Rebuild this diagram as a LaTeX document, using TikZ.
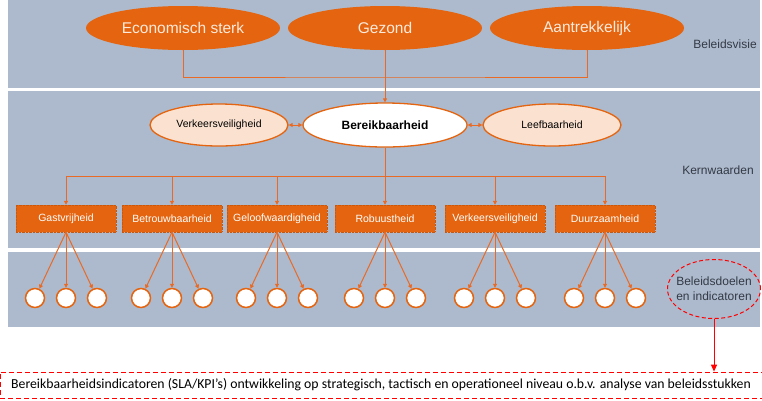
\documentclass[tikz,border=0pt]{standalone}
\usepackage{fontspec}
\setmainfont{Liberation Sans}
\newfontfamily\calibri{Carlito}
\usetikzlibrary{calc,shapes.geometric,arrows.meta}

\definecolor{band}{HTML}{ADBACD}
\definecolor{oranje}{HTML}{E4640F}
\definecolor{lijn}{HTML}{E86A24}
\definecolor{perzik}{HTML}{FBE2D0}
\definecolor{room}{HTML}{FDEBDD}
\definecolor{tekst}{HTML}{333A45}

\tikzset{
  visie/.style={ellipse, fill=oranje, minimum width=194pt, minimum height=44pt, text=room, font=\fontsize{15.5}{18}\selectfont},
  waarde/.style={ellipse, draw=oranje, line width=1.3pt, fill=perzik, minimum width=138pt, minimum height=42pt, font=\fontsize{10.5}{12}\selectfont},
  kern/.style={rectangle, fill=oranje, draw=oranje!88!black, densely dotted, minimum width=100pt, minimum height=27pt, text=white, font=\fontsize{10.5}{12}\selectfont},
  doel/.style={circle, draw=oranje, line width=1.5pt, fill=white, minimum size=19pt, inner sep=0pt},
  lijntje/.style={draw=lijn, line width=1pt},
  pijl/.style={lijntje, -{Triangle[length=4pt,width=4pt]}},
  laag/.style={font=\fontsize{12}{15}\selectfont, text=tekst}
}

\begin{document}
\begin{tikzpicture}[x=1pt,y=-1pt]
\useasboundingbox (0,0) rectangle (762,400);

% lagen
\fill[band] (8,0) rectangle (760,88);
\fill[band] (8,91) rectangle (760,248);
\fill[band] (8,252) rectangle (760,327);

% beleidsvisie
\node[visie] (econ) at (183,28) {Economisch sterk};
\node[visie] (gezond) at (385,28) {Gezond};
\node[visie] (aantr) at (587,28) {Aantrekkelijk};

\node[waarde] (veilig) at (219,125) {Verkeersveiligheid};
\node[ellipse, draw=oranje, line width=1.3pt, fill=white, minimum width=164pt, minimum height=44pt, font=\bfseries\fontsize{12}{14}\selectfont] (bereik) at (385,125) {Bereikbaarheid};
\node[waarde] (leef) at (552,125) {Leefbaarheid};

\coordinate (bus1) at (385,77);
\draw[lijntje] (econ.south) |- (bus1) -| (aantr.south);
\draw[pijl] (gezond.south) -- (bereik.north);
\draw[lijntje, {Triangle[length=4pt,width=4pt]}-{Triangle[length=4pt,width=4pt]}] (veilig) -- (bereik);
\draw[lijntje, {Triangle[length=4pt,width=4pt]}-{Triangle[length=4pt,width=4pt]}] (bereik) -- (leef);

% kernwaarden
\foreach \x/\naam [count=\i] in {66/Gastvrijheid,172/Betrouwbaarheid,277/Geloofwaardigheid,385/Robuustheid,495/Verkeersveiligheid,605/Duurzaamheid}{
	\node[kern] (k\i) at (\x,218.5) {\naam};
	\foreach \d [count=\j] in {-31,0,31}{
		\node[doel] (d\i\j) at ({\x+\d},298) {};
		\draw[pijl] (k\i.south) -- (d\i\j);
	}
}

\coordinate (bus2) at (385,176);
\draw[lijntje] (bereik.south) -- (bus2);
\draw[lijntje] (k1.north |- bus2) -- (k6.north |- bus2);
\foreach \i in {1,...,6}{
	\draw[pijl] (k\i.north |- bus2) -- (k\i.north);
}

% labels rechts
\node[laag] (visielabel) at (725,44) {Beleidsvisie};
\node[laag] (kernlabel) at (718,170) {Kernwaarden};
\node[laag, ellipse, draw=red, dash pattern=on 4pt off 2.5pt, line width=1pt, minimum width=93pt, minimum height=59pt, align=center, inner xsep=-5pt, inner ysep=0pt] (doelen) at (714,289) {Beleidsdoelen\\en indicatoren};

% onderste balk
\node[draw=red, dash pattern=on 5pt off 3pt, line width=0.8pt, minimum width=762pt, minimum height=26pt, inner sep=0pt, font=\calibri\fontsize{13.75}{16}\selectfont] (onder) at (381,385) {Bereikbaarheidsindicatoren (SLA/KPI’s) ontwikkeling op strategisch, tactisch en operationeel niveau o.b.v. analyse van beleidsstukken};
\draw[red, line width=1pt, -{Triangle[length=7pt,width=6pt]}] (doelen.south) -- (doelen.south |- onder.north);

\end{tikzpicture}
\end{document}
